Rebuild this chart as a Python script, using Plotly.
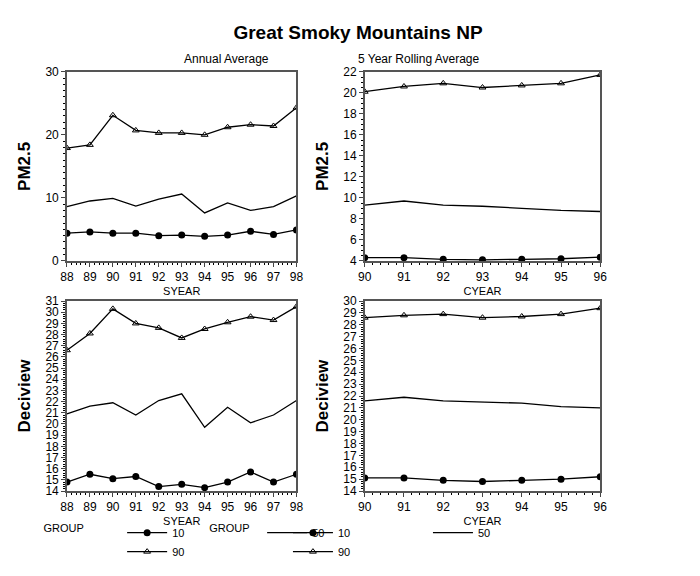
import plotly.graph_objects as go

syear = [88, 89, 90, 91, 92, 93, 94, 95, 96, 97, 98]
cyear = [90, 91, 92, 93, 94, 95, 96]
groups = ["10", "50", "90"]

pm_annual = {
    "10": [4.4, 4.6, 4.4, 4.4, 4.0, 4.1, 3.9, 4.1, 4.7, 4.2, 4.9],
    "50": [8.6, 9.5, 9.9, 8.7, 9.8, 10.6, 7.6, 9.2, 8.0, 8.6, 10.3],
    "90": [17.9, 18.4, 23.1, 20.7, 20.3, 20.3, 20.0, 21.2, 21.6, 21.4, 24.3],
}
dv_annual = {
    "10": [14.8, 15.5, 15.1, 15.3, 14.4, 14.6, 14.3, 14.8, 15.7, 14.8, 15.5],
    "50": [20.9, 21.6, 21.9, 20.8, 22.1, 22.7, 19.7, 21.5, 20.1, 20.8, 22.1],
    "90": [26.6, 28.1, 30.3, 29.0, 28.6, 27.7, 28.5, 29.1, 29.6, 29.3, 30.5],
}
pm_roll = {
    "10": [4.3, 4.3, 4.15, 4.1, 4.15, 4.2, 4.35],
    "50": [9.3, 9.7, 9.3, 9.2, 9.0, 8.8, 8.7],
    "90": [20.1, 20.6, 20.9, 20.5, 20.7, 20.9, 21.7],
}
dv_roll = {
    "10": [15.1, 15.1, 14.9, 14.8, 14.9, 15.0, 15.2],
    "50": [21.6, 21.9, 21.6, 21.5, 21.4, 21.1, 21.0],
    "90": [28.6, 28.8, 28.9, 28.6, 28.7, 28.9, 29.4],
}

style = {
    "10": dict(mode="lines+markers", marker=dict(symbol="circle", size=7, color="black")),
    "50": dict(mode="lines"),
    "90": dict(mode="lines+markers", marker=dict(symbol="triangle-up-open", size=6, color="black")),
}

fig = go.Figure()
panels = [
    (syear, pm_annual, "x", "y", None),
    (cyear, pm_roll, "x2", "y2", None),
    (syear, dv_annual, "x3", "y3", "legend"),
    (cyear, dv_roll, "x4", "y4", "legend2"),
]
for xs, data, xa, ya, leg in panels:
    for g in groups:
        kw = dict(x=xs, y=data[g], xaxis=xa, yaxis=ya, name=g,
                  line=dict(color="black", width=1.3), showlegend=leg is not None, **style[g])
        if leg:
            kw["legend"] = leg
        fig.add_trace(go.Scatter(**kw))

font = dict(family="Arial, Liberation Sans", size=12, color="black")
sfont = dict(family="Arial, Liberation Sans", size=11, color="black")
xd = [[0.086, 0.466], [0.579, 0.969]]
yd = [[0.5625, 0.899], [0.153, 0.491]]
ax_common = dict(showline=True, linecolor="#555", linewidth=1.5, mirror=True, ticks="outside",
                 ticklen=4, showgrid=False, zeroline=False, tickfont=font,
                 minor=dict(ticks="outside", ticklen=2, tickcolor="black"))
ybig = dict(family="Arial, Liberation Sans", size=17, color="black")

leg_common = dict(orientation="h", y=0.062, xanchor="left", yanchor="middle",
                  title=dict(text="GROUP          ", font=sfont), font=sfont,
                  itemwidth=40, entrywidth=85, tracegroupgap=0, bgcolor="rgba(0,0,0,0)")

lay = dict(
    width=700, height=576, plot_bgcolor="white", paper_bgcolor="white",
    margin=dict(l=0, r=0, t=0, b=0), font=font,
    xaxis=dict(domain=xd[0], anchor="y", range=[88, 98], dtick=1, minor=dict(nticks=5), title=dict(text="SYEAR", font=sfont, standoff=4)),
    xaxis2=dict(domain=xd[1], anchor="y2", range=[90, 96], dtick=1, minor=dict(nticks=8), title=dict(text="CYEAR", font=sfont, standoff=4)),
    xaxis3=dict(domain=xd[0], anchor="y3", range=[88, 98], dtick=1, minor=dict(nticks=5), title=dict(text="SYEAR", font=sfont, standoff=4)),
    xaxis4=dict(domain=xd[1], anchor="y4", range=[90, 96], dtick=1, minor=dict(nticks=8), title=dict(text="CYEAR", font=sfont, standoff=4)),
    yaxis=dict(domain=yd[0], anchor="x", range=[0, 30], dtick=10, minor=dict(dtick=1), title=dict(text="<b>PM2.5</b>", font=ybig, standoff=10)),
    yaxis2=dict(domain=yd[0], anchor="x2", range=[4, 22], dtick=2, minor=dict(dtick=0.5), title=dict(text="<b>PM2.5</b>", font=ybig, standoff=10)),
    yaxis3=dict(domain=yd[1], anchor="x3", range=[14, 31], dtick=1, title=dict(text="<b>Deciview</b>", font=ybig, standoff=10)),
    yaxis4=dict(domain=yd[1], anchor="x4", range=[14, 30], dtick=1, title=dict(text="<b>Deciview</b>", font=ybig, standoff=10)),
    legend=dict(x=0.055, **leg_common),
    legend2=dict(x=0.55, **leg_common),
    title=dict(text="<b>Great Smoky Mountains NP</b>", x=0.5, y=0.97, xanchor="center", font=dict(family="Arial, Liberation Sans", size=19, color="black")),
    annotations=[
        dict(text="Annual Average", x=sum(xd[0]) / 2, y=0.905, xref="paper", yref="paper", showarrow=False, yanchor="bottom", font=font),
        dict(text="5 Year Rolling Average", x=sum(xd[1]) / 2, y=0.905, xref="paper", yref="paper", showarrow=False, yanchor="bottom", font=font),
    ],
)
for k in ["xaxis", "xaxis2", "xaxis3", "xaxis4", "yaxis", "yaxis2", "yaxis3", "yaxis4"]:
    d = dict(ax_common)
    d["minor"] = {**ax_common["minor"], **lay[k].get("minor", {})}
    d.update({kk: vv for kk, vv in lay[k].items() if kk != "minor"})
    lay[k] = d
fig.update_layout(**lay)
fig.write_html("out.html")
